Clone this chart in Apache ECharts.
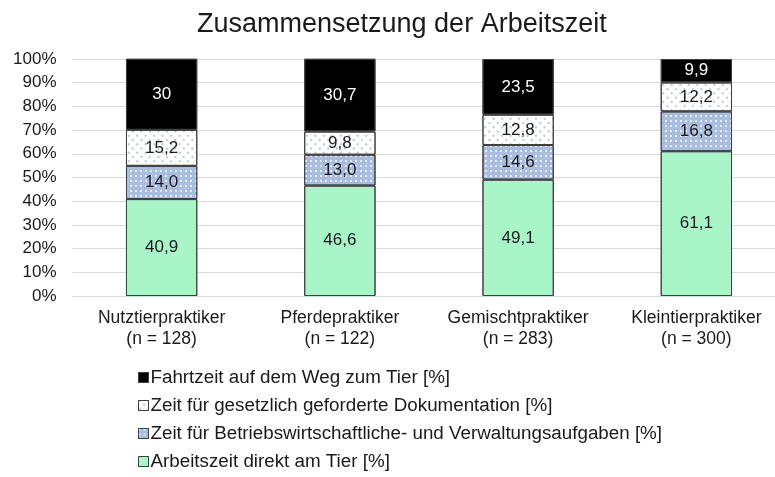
<!DOCTYPE html>
<html>
<head>
<meta charset="utf-8">
<script src="https://cdn.jsdelivr.net/npm/echarts@6/dist/echarts.min.js"></script>
<style>
  html, body { margin: 0; padding: 0; background: #fff; overflow: hidden; }
  /* Diagrammfläche reicht im Original über den rechten Rand hinaus */
  #main { width: 800px; height: 477px; }
</style>
</head>
<body>
<div id="main"></div>
<script>
// Daten
var categories = ['Nutztierpraktiker', 'Pferdepraktiker', 'Gemischtpraktiker', 'Kleintierpraktiker'];
var sampleSizes = [128, 122, 283, 300];
var amTier = [40.9, 46.6, 49.1, 61.1];
var verwaltung = [14.0, 13.0, 14.6, 16.8];
var dokumentation = [15.2, 9.8, 12.8, 12.2];
var fahrtzeit = [30, 30.7, 23.5, 9.9];
var yTicks = [0, 10, 20, 30, 40, 50, 60, 70, 80, 90, 100];

var names = {
  fahrt: 'Fahrtzeit auf dem Weg zum Tier [%]',
  doku: 'Zeit für gesetzlich geforderte Dokumentation [%]',
  verw: 'Zeit für Betriebswirtschaftliche- und Verwaltungsaufgaben [%]',
  tier: 'Arbeitszeit direkt am Tier [%]'
};

var font = 'Liberation Sans, Arial, sans-serif';
var chart = echarts.init(document.getElementById('main'));

function fixed1(p) { return p.value.toFixed(1).replace('.', ','); }
function plain(p) { return String(p.value).replace('.', ','); }

// kein Muster: transparentes Decal
var noDecal = { symbol: 'rect', color: 'rgba(0,0,0,0)' };

function mkSeries(name, data, color, textColor, fmt, decal) {
  return {
    name: name,
    type: 'bar',
    stack: 'total',
    data: data,
    barWidth: '40%',
    itemStyle: { color: color, borderColor: '#404040', borderWidth: 1, decal: decal || noDecal },
    label: {
      show: true,
      position: 'inside',
      color: textColor,
      fontSize: 17,
      fontFamily: font,
      formatter: fmt
    }
  };
}

var option = {
  backgroundColor: '#fff',
  animation: false,
  aria: { enabled: true, decal: { show: true } },
  title: {
    text: 'Zusammensetzung der Arbeitszeit',
    left: 192,
    top: 6,
    textStyle: { fontSize: 27, fontWeight: 'normal', color: '#1a1a1a', fontFamily: font }
  },
  grid: { left: 72.5, top: 59, width: 713, height: 237 },
  legend: {
    orient: 'vertical',
    left: 133,
    top: 363,
    icon: 'rect',
    itemWidth: 10,
    itemHeight: 10,
    itemGap: 9,
    data: [names.fahrt, names.doku, names.verw, names.tier],
    textStyle: { fontSize: 18.8, color: '#1a1a1a', fontFamily: font, padding: [0, 0, 0, -3] },
    itemStyle: { borderColor: '#404040', borderWidth: 1 }
  },
  xAxis: {
    type: 'category',
    data: categories.map(function (c, i) { return c + '\n(n = ' + sampleSizes[i] + ')'; }),
    axisTick: { show: false },
    axisLine: { lineStyle: { color: '#d9d9d9' } },
    axisLabel: { interval: 0, color: '#1a1a1a', fontSize: 17.5, fontFamily: font, lineHeight: 21, margin: 12 }
  },
  yAxis: {
    type: 'value',
    min: 0,
    max: 100,
    interval: 10,
    axisLine: { show: false },
    axisTick: { show: false },
    splitLine: { lineStyle: { color: '#d9d9d9' } },
    axisLabel: {
      color: '#1a1a1a', fontSize: 17, fontFamily: font, margin: 16,
      formatter: function (v) { return yTicks.indexOf(v) >= 0 ? v + '%' : ''; }
    }
  },
  series: [
    mkSeries(names.tier, amTier, '#a8f5c8', '#1a1a1a', fixed1),
    mkSeries(names.verw, verwaltung, '#a9bedf', '#1a1a1a', fixed1,
      { symbol: 'circle', symbolSize: 1, color: 'rgba(255,255,255,0.9)', dashArrayX: [2, 3], dashArrayY: [2, 3] }),
    mkSeries(names.doku, dokumentation, '#ffffff', '#1a1a1a', fixed1,
      { symbol: 'circle', symbolSize: 1, color: 'rgba(130,150,180,0.7)', dashArrayX: [1.5, 3.5], dashArrayY: [1.5, 3.5] }),
    mkSeries(names.fahrt, fahrtzeit, '#000000', '#ffffff', plain)
  ]
};
chart.setOption(option);
</script>
</body>
</html>
